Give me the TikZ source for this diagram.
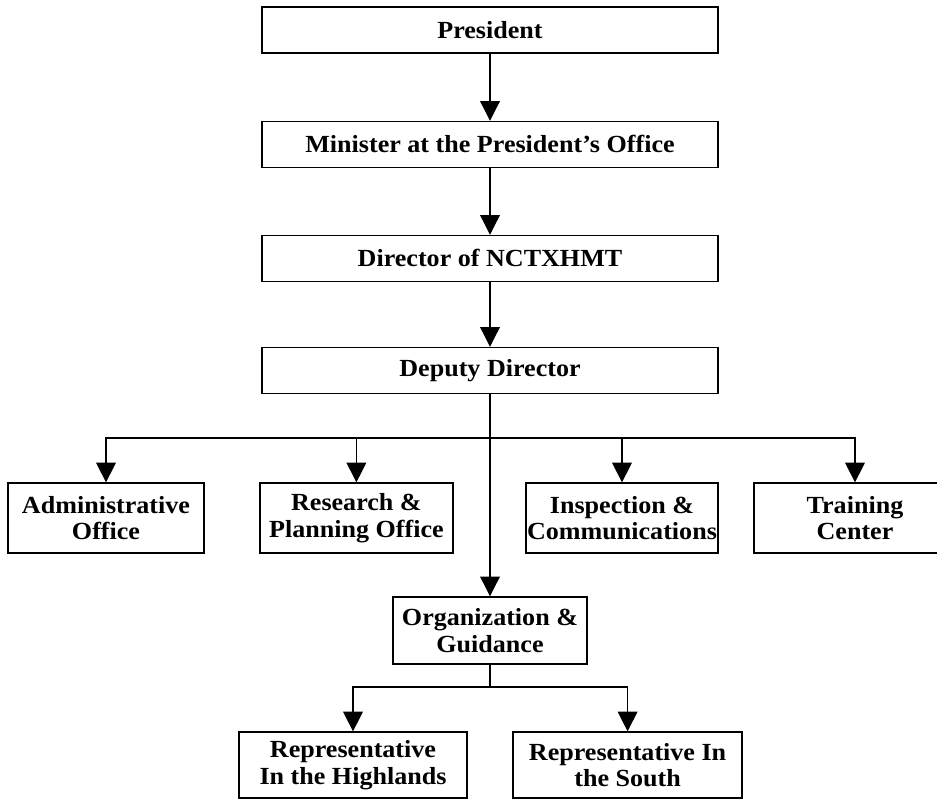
\documentclass[tikz,border=0pt]{standalone}
\usepackage{fontspec}
\setmainfont[FakeStretch=1.06]{Liberation Serif}
\usepackage{tikz}
\usetikzlibrary{arrows.meta}

\begin{document}
\begin{tikzpicture}[
            box node/.style={draw,line width=0.9pt,inner sep=0pt,align=center,
                font=\fontsize{17.5}{19}\selectfont\bfseries},
            wide node/.style={box node,minimum width=11.4cm,minimum height=1.15cm},
            unit node/.style={box node,minimum height=1.75cm},
            link/.style={line width=0.9pt,-{Triangle[length=14pt,width=14pt]}},
            ]

            \useasboundingbox (0,0) rectangle (23.425,-19.975);

            \node[wide node] (1) at (12.25,-0.75) {President};
            \node[wide node] (2) at (12.25,-3.61) {Minister at the President’s Office};
            \node[wide node] (3) at (12.25,-6.46) {Director of NCTXHMT};
            \node[wide node] (4) at (12.25,-9.26) {Deputy Director};

            \node[unit node, minimum width=4.9cm] (5) at (2.65,-12.95) {Administrative\\Office};
            \node[unit node, minimum width=4.825cm] (6) at (8.91,-12.95) {Research \&\\Planning Office};
            \node[unit node, minimum width=4.8cm] (7) at (15.55,-12.95) {Inspection \&\\Communications};
            \node[unit node, minimum width=5.05cm] (8) at (21.375,-12.95) {Training\\Center};

            \node[unit node, minimum width=4.85cm, minimum height=1.675cm] (9) at (12.25,-15.76) {Organization \&\\Guidance};

            \node[unit node, minimum width=5.7cm, minimum height=1.65cm] (10) at (8.825,-19.125) {Representative\\In the Highlands};
            \node[unit node, minimum width=5.725cm, minimum height=1.65cm] (11) at (15.69,-19.125) {Representative In\\the South};

            \coordinate (bus) at (12.25,-10.95);
            \coordinate (split) at (12.25,-17.175);

            \draw[link] (1) -- (2);
            \draw[link] (2) -- (3);
            \draw[link] (3) -- (4);
            \draw[link] (4) -- (9);
            \draw[link] (bus) -| (5);
            \draw[link] (bus) -| (6);
            \draw[link] (bus) -| (7);
            \draw[link] (bus) -| (8);
            \draw[line width=0.9pt] (9) -- (split);
            \draw[link] (split) -| (10);
            \draw[link] (split) -| (11);
        \end{tikzpicture}
\end{document}
